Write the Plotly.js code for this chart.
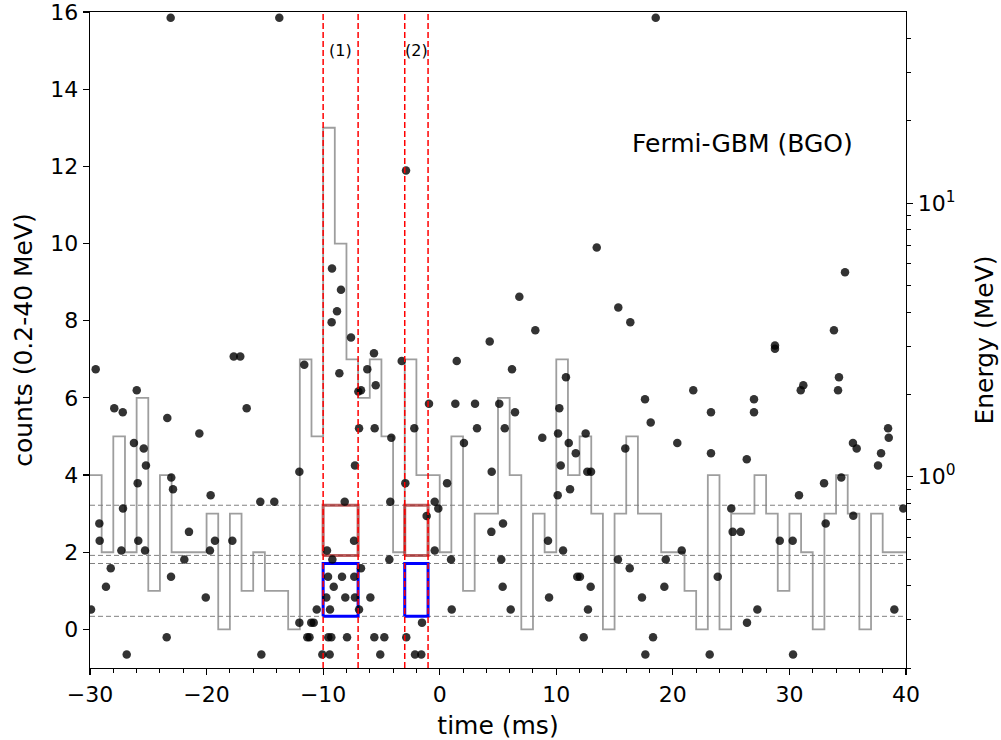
<!DOCTYPE html>
<html>
<head>
<meta charset="utf-8">
<script src="https://cdn.plot.ly/plotly-3.0.1.min.js"></script>
<style>html,body{margin:0;padding:0;background:#fff;}#chart{width:1001px;height:740px;}</style>
</head>
<body>
<div id="chart"></div>
<script>
// ---- light curve: counts per 1 ms bin (0.2-40 MeV), bins starting at -30 ms ----
const binStart = -30;
const binWidth = 1;
const histCounts = [4,2,5,2,6,1,4,2,2,2, 3,0,3,1,2,1,1,0,7,5,
                    13,10,7,6,7,5,2,7,4,4, 2,5,1,3,3,6,4,0,3,2,
                    7,4,5,3,0,3,5,3,3,2, 2,1,0,4,0,3,3,4,3,1,
                    3,2,0,3,4,3,0,3,2,2];

// ---- individual photons: arrival time (ms) and energy (MeV) ----
const photonTime = [
  -23.08, -13.76, 18.53,
  -29.51, -25.99, -27.92, -27.19, -23.37, -20.62, -26.23, -25.39, -25.20, -23.03,
  -25.91, -22.88, -19.65, -27.17, -29.20, -21.51, -29.17, -25.86, -19.28, -27.31,
  -25.28, -19.71, -21.91, -28.22, -23.05, -28.63, -20.07, -29.91, -23.42, -26.85,
  -9.24, -8.47, -8.81, -9.27, -7.61, -17.67, -17.11, -11.62, -8.61, -6.98,
  -16.56, -6.92, -12.04, -7.27, -15.39, -14.19, -8.15, -17.79, -7.35, -9.67,
  -9.21, -9.58, -8.38, -7.33, -9.09, -9.73, -8.10, -7.27, -10.55, -9.41,
  -12.04, -11.02, -10.81, -11.36, -11.17, -9.56, -9.30, -7.95, -15.30, -10.07,
  -9.44,
  -2.89, 4.29, -5.64, -3.26, 1.46, -6.21, -6.75, -5.49, -0.92, 1.34,
  3.03, -5.58, -2.18, 3.20, -4.15, 2.08, 4.46, -2.95, 0.63, -4.24,
  -0.43, -0.12, -1.12, 4.43, -0.43, -4.32, 0.97, -6.75, -5.95, -6.92,
  1.03, -1.52, -5.61, -4.75, -2.87, -5.10, -2.12, -1.58,
  13.47, 6.83, 15.32, 8.20, 16.35, 6.20, 10.83, 5.11, 6.46, 10.26,
  5.58, 8.80, 10.15, 11.07, 12.52, 11.67, 10.38, 12.66, 12.98, 15.92,
  10.12, 11.18, 5.43, 9.29, 10.58, 5.28, 15.29, 16.30, 11.80, 12.03,
  5.40, 12.95, 9.38, 6.09, 12.72, 12.35,
  21.75, 17.61, 26.96, 23.27, 26.96, 18.10, 20.38, 23.27, 26.34, 25.01,
  25.13, 25.82, 20.76, 19.39, 23.85, 19.27, 17.35, 27.25, 26.36, 18.30,
  17.64, 23.16,
  34.77, 33.82, 28.76, 28.76, 31.19, 30.97, 34.25, 34.17, 38.46, 38.52,
  35.45, 35.77, 37.86, 37.60, 32.97, 34.45, 30.82, 39.77, 33.11, 35.48,
  29.17, 30.28, 39.00, 30.31
];
const photonEnergy = [
  47.6, 47.6, 47.6,
  2.47, 2.07, 1.78, 1.72, 1.64, 1.44, 1.33, 1.27, 1.10, 0.994,
  0.948, 0.90, 0.856, 0.766, 0.675, 0.629, 0.584, 0.584, 0.584, 0.538,
  0.538, 0.538, 0.498, 0.463, 0.431, 0.396, 0.362, 0.327, 0.259, 0.224,
  5.77, 4.83, 4.03, 3.67, 3.23, 2.75, 2.75, 2.57, 2.39, 2.05,
  1.78, 1.505, 1.043, 1.10, 0.81, 0.81, 0.81, 0.584, 0.584, 0.538,
  0.498, 0.431, 0.431, 0.431, 0.396, 0.362, 0.362, 0.362, 0.327, 0.327,
  0.293, 0.293, 0.293, 0.259, 0.259, 0.259, 0.259, 0.259, 0.224, 0.224,
  0.224,
  13.17, 3.12, 2.83, 2.65, 2.65, 2.47, 2.07, 2.16, 1.85, 1.85,
  1.85, 1.505, 1.505, 1.505, 1.39, 1.33, 1.043, 0.948, 0.948, 0.81,
  0.81, 0.766, 0.719, 0.629, 0.538, 0.498, 0.498, 0.463, 0.362, 0.327,
  0.327, 0.293, 0.259, 0.259, 0.259, 0.224, 0.224, 0.224,
  6.89, 4.55, 4.16, 3.43, 3.67, 2.47, 2.31, 1.85, 1.72, 1.78,
  1.505, 1.39, 1.44, 1.33, 1.44, 1.22, 1.10, 1.043, 1.043, 1.27,
  0.856, 0.90, 0.675, 0.584, 0.538, 0.498, 0.498, 0.463, 0.431, 0.431,
  0.396, 0.396, 0.362, 0.327, 0.327, 0.259,
  2.07, 1.92, 1.92, 1.72, 1.72, 1.58, 1.33, 1.22, 1.16, 0.766,
  0.629, 0.629, 0.538, 0.498, 0.431, 0.396, 0.362, 0.327, 0.293, 0.259,
  0.224, 0.224,
  5.59, 3.43, 3.02, 2.94, 2.16, 2.07, 2.31, 2.07, 1.505, 1.39,
  1.33, 1.27, 1.22, 1.10, 0.948, 0.994, 0.856, 0.766, 0.675, 0.72,
  0.584, 0.584, 0.327, 0.224
];

// ---- time windows (ms) and energy bands (MeV) ----
const windowLabels = ['(1)', '(2)'];
const windowStart = [-10, -3];
const windowEnd = [-7, -1];
const highBand = [0.516, 0.787];   // red boxes
const lowBand = [0.309, 0.482];    // blue boxes
const bandLines = [0.309, 0.482, 0.516, 0.787];

const xRange = [-30, 40];
const countRange = [-1, 16];
const energyRange = [0.2, 50];

// ---- build traces ----
const edges = histCounts.map((_, i) => binStart + i * binWidth);
edges.push(binStart + histCounts.length * binWidth);
const stepY = histCounts.concat([histCounts[histCounts.length - 1]]);

const traces = [];
traces.push({
  x: edges, y: stepY, type: 'scatter', mode: 'lines', line: {shape: 'hv', color: 'rgb(158,158,158)', width: 1.8},
  xaxis: 'x', yaxis: 'y', hoverinfo: 'skip'
});
bandLines.forEach(v => traces.push({
  x: xRange, y: [v, v], type: 'scatter', mode: 'lines',
  line: {color: 'rgb(128,128,128)', width: 1, dash: '5px,3px'}, xaxis: 'x', yaxis: 'y2', hoverinfo: 'skip'
}));
function box(x0, x1, b, color) {
  return {x: [x0, x1, x1, x0, x0], y: [b[0], b[0], b[1], b[1], b[0]], type: 'scatter', mode: 'lines',
    line: {color: color, width: 3}, xaxis: 'x', yaxis: 'y2', hoverinfo: 'skip'};
}
windowStart.forEach((s, i) => {
  traces.push(box(s, windowEnd[i], highBand, 'rgba(165,42,42,0.75)'));
  traces.push(box(s, windowEnd[i], lowBand, 'rgb(0,0,255)'));
});
traces.push({
  x: photonTime, y: photonEnergy, type: 'scatter', mode: 'markers',
  marker: {color: 'rgba(0,0,0,0.8)', size: 8.5, line: {width: 0}}, xaxis: 'x', yaxis: 'y2', cliponaxis: true
});

const shapes = [];
windowStart.concat(windowEnd).forEach(v => shapes.push({
  type: 'line', xref: 'x', yref: 'paper', x0: v, x1: v, y0: 0, y1: 1,
  line: {color: 'rgb(255,0,0)', width: 1.5, dash: '6px,3px'}, layer: 'above'
}));

const annotations = windowLabels.map((t, i) => ({
  text: t, x: (windowStart[i] + windowEnd[i]) / 2, y: 15, xref: 'x', yref: 'y',
  showarrow: false, font: {size: 16, color: '#000', family: 'DejaVu Sans'}
}));
annotations.push({text: 'Fermi-GBM (BGO)', x: 26, y: 12.6, xref: 'x', yref: 'y', showarrow: false,
  font: {size: 25, color: '#000', family: 'DejaVu Sans'}});

const minorE = [0.2,0.3,0.4,0.5,0.6,0.7,0.8,0.9,2,3,4,5,6,7,8,9,20,30,40];
const tickFont = {family: 'DejaVu Sans', size: 22, color: '#000'};
const titleFont = {family: 'DejaVu Sans', size: 25, color: '#000'};
const layout = {
  width: 1001, height: 740,
  margin: {l: 90, r: 95, t: 12, b: 72, pad: 0},
  paper_bgcolor: '#fff', plot_bgcolor: '#fff',
  showlegend: false, hovermode: false,
  font: {family: 'DejaVu Sans', color: '#000'},
  xaxis: {
    range: xRange, tick0: 0, dtick: 10, ticks: 'outside', ticklen: 6, tickwidth: 1.2, tickcolor: '#000',
    minor: {dtick: 2, tick0: 0, ticks: 'outside', ticklen: 3.5, tickwidth: 1, tickcolor: '#000'},
    showline: true, linecolor: '#000', linewidth: 1.3, mirror: true, showgrid: false, zeroline: false,
    ticklabeloverflow: 'allow',
    tickfont: tickFont, title: {text: 'time (ms)', font: titleFont, standoff: 10}
  },
  yaxis: {
    range: countRange, tick0: 0, dtick: 2, ticks: 'outside', ticklen: 6, tickwidth: 1.2, tickcolor: '#000',
    showline: true, linecolor: '#000', linewidth: 1.3, showgrid: false, zeroline: false,
    ticklabeloverflow: 'allow',
    tickfont: tickFont, title: {text: 'counts (0.2-40 MeV)', font: titleFont, standoff: 10}
  },
  yaxis2: {
    overlaying: 'y', side: 'right', type: 'log',
    range: [Math.log10(energyRange[0]), Math.log10(energyRange[1])],
    tickmode: 'array', tickvals: [1, 10], ticktext: ['10<sup>0</sup>', '10<sup>1</sup>'],
    ticks: 'outside', ticklen: 6, tickwidth: 1.2, tickcolor: '#000',
    minor: {tickmode: 'array', tickvals: minorE, ticks: 'outside', ticklen: 3.5, tickwidth: 1, tickcolor: '#000'},
    showline: true, linecolor: '#000', linewidth: 1.3, showgrid: false, zeroline: false,
    ticklabeloverflow: 'allow',
    tickfont: tickFont, title: {text: 'Energy (MeV)', font: titleFont, standoff: 21}
  },
  shapes: shapes,
  annotations: annotations
};
Plotly.newPlot('chart', traces, layout, {staticPlot: true, displayModeBar: false});
</script>
</body>
</html>
